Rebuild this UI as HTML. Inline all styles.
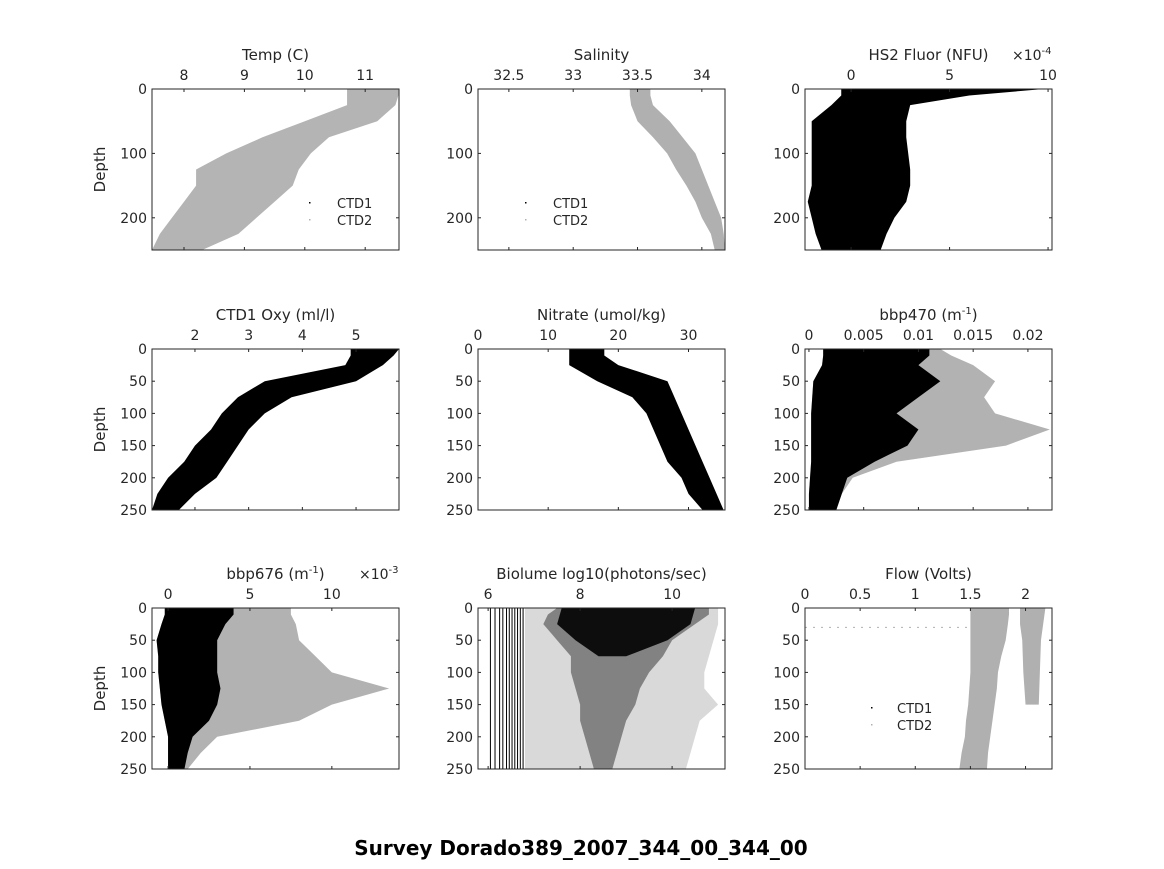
<!DOCTYPE html>
<html><head><meta charset="utf-8"><style>
body{margin:0;background:#fff}
svg text{font-family:"DejaVu Sans","Liberation Sans",sans-serif;fill:#262626}
</style></head><body>
<svg id="fig" width="1164" height="864" viewBox="0 0 1164 864" xmlns="http://www.w3.org/2000/svg">
<rect width="1164" height="864" fill="#fff"/>
<text x="581" y="855" text-anchor="middle" font-size="20" font-weight="bold" style="fill:#000">Survey Dorado389_2007_344_00_344_00</text>
</svg>
<script>
const depths=[0,10,25,50,75,100,125,150,175,200,225,250];
// Temp
const tempLo=[10.7,10.7,10.7,10.0,9.3,8.7,8.2,8.2,8.0,7.8,7.6,7.47];
const tempHi=[11.55,11.55,11.5,11.2,10.4,10.1,9.9,9.8,9.5,9.2,8.9,8.3];
// Salinity
const salLo=[33.44,33.44,33.45,33.5,33.62,33.73,33.8,33.88,33.95,34.0,34.07,34.1];
const salHi=[33.6,33.6,33.62,33.75,33.85,33.95,34.0,34.05,34.1,34.15,34.17,34.18];
// Fluor x1e-4
const fluLo=[-0.5,-0.5,-1,-2,-2,-2,-2,-2,-2.2,-2,-1.8,-1.5];
const fluHi=[9.8,6,3,2.8,2.8,2.9,3,3,2.8,2.2,1.8,1.5];
// Oxygen
const oxyLo=[4.9,4.9,4.8,3.3,2.8,2.5,2.3,2.0,1.8,1.5,1.3,1.2];
const oxyHi=[5.8,5.7,5.5,5.0,3.8,3.3,3.0,2.8,2.6,2.4,2.0,1.7];
// Nitrate
const nitLo=[13,13,13,17,22,24,25,26,27,29,30,32];
const nitHi=[18,18,20,27,28,29,30,31,32,33,34,35];
// bbp470
const b470Lo=[0.0013,0.0013,0.0012,0.0004,0.0003,0.0002,0.0002,0.0002,0.0002,0.0001,0,0];
const b470Hi=[0.011,0.011,0.01,0.012,0.010,0.008,0.010,0.009,0.006,0.0035,0.003,0.0025];
const b470Fr=[0.012,0.013,0.015,0.017,0.016,0.017,0.022,0.018,0.008,0.004,0.003,0.0025];
// bbp676 x1e-3
const b676Lo=[-0.2,-0.2,-0.4,-0.7,-0.6,-0.6,-0.5,-0.4,-0.2,0,0,0];
const b676Hi=[4,4,3.5,3,3,3,3.2,3,2.5,1.5,1.2,1];
const b676Fr=[7.5,7.5,7.8,8,9,10,13.5,10,8,3,2,1.2];
// Biolume
const bioCoreDepth=[0,25,50,75];
const bioCoreLo=[7.6,7.5,7.9,8.4];
const bioCoreHi=[10.5,10.4,9.9,9.0];
const bioLo=[7.5,7.3,7.2,7.5,7.8,7.8,7.9,8.0,8.0,8.1,8.2,8.3];
const bioHi=[10.8,10.8,10.5,10.0,9.8,9.5,9.3,9.2,9.0,8.9,8.8,8.7];
const bioFrLo=[6.8,6.8,6.8,6.8,6.8,6.8,6.8,6.8,6.8,6.8,6.8,6.8];
const bioFrHi=[11,11,11,10.9,10.8,10.7,10.7,11,10.6,10.5,10.4,10.3];
const bioLines=[6.05,6.15,6.25,6.32,6.4,6.46,6.52,6.58,6.64,6.7,6.76];
// Flow
const flowLo=[1.5,1.5,1.5,1.5,1.5,1.5,1.49,1.48,1.46,1.45,1.42,1.4];
const flowHi=[1.85,1.85,1.84,1.82,1.78,1.75,1.74,1.72,1.7,1.68,1.66,1.65];
const flow2Depth=[0,25,50,100,150];
const flow2Lo=[1.95,1.95,1.97,1.98,2.0];
const flow2Hi=[2.18,2.16,2.14,2.13,2.12];

const cols=[152,478,805], W=247, rows=[89,349,608], H=161;
const NS="http://www.w3.org/2000/svg";
const svg=document.getElementById('fig');
function el(tag,attrs,parent){const e=document.createElementNS(NS,tag);for(const k in attrs)e.setAttribute(k,attrs[k]);(parent||svg).appendChild(e);return e;}

const panels=[
 {n:'temp',c:0,r:0,title:'Temp (C)',x0:7.47,x1:11.56,ticks:[8,9,10,11],lab:['8','9','10','11'],yt:[0,100,200],ylab:true,
  bands:[{d:depths,lo:tempLo,hi:tempHi,f:'#b4b4b4',o:1}],legend:[309,337]},
 {n:'salinity',c:1,r:0,title:'Salinity',x0:32.26,x1:34.18,ticks:[32.5,33,33.5,34],lab:['32.5','33','33.5','34'],yt:[0,100,200],
  bands:[{d:depths,lo:salLo,hi:salHi,f:'#b0b0b0',o:1}],legend:[525,553]},
 {n:'fluor',c:2,r:0,title:'HS2 Fluor (NFU)',x0:-2.34,x1:10.2,ticks:[0,5,10],lab:['0','5','10'],yt:[0,100,200],exp:'-4',
  bands:[{d:depths,lo:fluLo,hi:fluHi,f:'#000',o:1}]},
 {n:'oxygen',c:0,r:1,title:'CTD1 Oxy (ml/l)',x0:1.2,x1:5.8,ticks:[2,3,4,5],lab:['2','3','4','5'],yt:[0,50,100,150,200,250],ylab:true,
  bands:[{d:depths,lo:oxyLo,hi:oxyHi,f:'#000',o:1}]},
 {n:'nitrate',c:1,r:1,title:'Nitrate (umol/kg)',x0:0,x1:35.2,ticks:[0,10,20,30],lab:['0','10','20','30'],yt:[0,50,100,150,200,250],
  bands:[{d:depths,lo:nitLo,hi:nitHi,f:'#000',o:1}]},
 {n:'bbp470',c:2,r:1,title:'bbp470 (m',sup:true,x0:-0.00036,x1:0.0222,ticks:[0,0.005,0.01,0.015,0.02],lab:['0','0.005','0.01','0.015','0.02'],yt:[0,50,100,150,200,250],
  bands:[{d:depths,lo:b470Lo,hi:b470Fr,f:'#000',o:0.3},{d:depths,lo:b470Lo,hi:b470Hi,f:'#000',o:1}]},
 {n:'bbp676',c:0,r:2,title:'bbp676 (m',sup:true,x0:-0.98,x1:14.1,ticks:[0,5,10],lab:['0','5','10'],yt:[0,50,100,150,200,250],ylab:true,exp:'-3',
  bands:[{d:depths,lo:b676Lo,hi:b676Fr,f:'#000',o:0.3},{d:depths,lo:b676Lo,hi:b676Hi,f:'#000',o:1}]},
 {n:'biolume',c:1,r:2,title:'Biolume log10(photons/sec)',x0:5.78,x1:11.15,ticks:[6,8,10],lab:['6','8','10'],yt:[0,50,100,150,200,250],
  bands:[{d:depths,lo:bioFrLo,hi:bioFrHi,f:'#000',o:0.15},{d:depths,lo:bioLo,hi:bioHi,f:'#000',o:0.4},{d:bioCoreDepth,lo:bioCoreLo,hi:bioCoreHi,f:'#000',o:0.9}],vlines:bioLines},
 {n:'flow',c:2,r:2,title:'Flow (Volts)',x0:0,x1:2.24,ticks:[0,0.5,1,1.5,2],lab:['0','0.5','1','1.5','2'],yt:[0,50,100,150,200,250],
  bands:[{d:depths,lo:flowLo,hi:flowHi,f:'#b0b0b0',o:1},{d:flow2Depth,lo:flow2Lo,hi:flow2Hi,f:'#b0b0b0',o:1}],hline:30,legend:[871,897]}
];

panels.forEach(p=>{
  const L=cols[p.c],T=rows[p.r];
  const sx=v=>L+(v-p.x0)/(p.x1-p.x0)*W;
  const sy=d=>T+d/250*H;
  const g=el('g',{});
  
  
  const clipId='c'+p.n;
  const cp=el('clipPath',{id:clipId},g);el('rect',{x:L,y:T,width:W,height:H},cp);
  const marks=el('g',{'clip-path':'url(#'+clipId+')'},g);
  p.bands.forEach((b,i)=>{
    let pts=b.d.map((d,k)=>sx(b.lo[k])+','+sy(d));
    for(let k=b.d.length-1;k>=0;k--)pts.push(sx(b.hi[k])+','+sy(b.d[k]));
    const poly=el('polygon',{points:pts.join(' '),fill:b.f,'fill-opacity':b.o},marks);
    
    
  });
  if(p.vlines)p.vlines.forEach(v=>{
    const ln=el('line',{x1:sx(v),x2:sx(v),y1:T,y2:T+H,stroke:'#000','stroke-width':1},marks);
    
    
  });
  if(p.hline!==undefined){
    const ln=el('line',{x1:L,x2:sx(1.5),y1:sy(p.hline),y2:sy(p.hline),stroke:'#b0b0b0','stroke-width':1,'stroke-dasharray':'2 6'},marks);
    
    
  }
  const box=el('rect',{x:L,y:T,width:W,height:H,fill:'none',stroke:'#262626','stroke-width':1},g);
  
  
  p.ticks.forEach((t,i)=>{
    const x=sx(t);
    el('line',{x1:x,x2:x,y1:T,y2:T+3,stroke:'#262626'},g);
    el('line',{x1:x,x2:x,y1:T+H,y2:T+H-3,stroke:'#262626'},g);
    const tx=el('text',{x:x,y:T-9,'text-anchor':'middle','font-size':14},g);
    tx.textContent=p.lab[i];
    
    
  });
  p.yt.forEach(d=>{
    const y=sy(d);
    el('line',{x1:L,x2:L+3,y1:y,y2:y,stroke:'#262626'},g);
    el('line',{x1:L+W,x2:L+W-3,y1:y,y2:y,stroke:'#262626'},g);
    const ty=el('text',{x:L-5,y:y+5,'text-anchor':'end','font-size':14},g);
    ty.textContent=String(d);
    
    
  });
  const tt=el('text',{x:L+W/2,y:T-29,'text-anchor':'middle','font-size':15},g);
  
  
  if(p.sup){tt.innerHTML=p.title+'<tspan dy="-6" font-size="10">-1</tspan><tspan dy="6">)</tspan>';}
  else tt.textContent=p.title;
  if(p.exp){
    const ex=el('text',{x:L+W-40,y:T-29,'font-size':14},g);
    ex.innerHTML='×10<tspan dy="-6" font-size="10">'+p.exp+'</tspan>';
    
    
  }
  if(p.ylab){
    const yl=el('text',{x:0,y:0,'text-anchor':'middle','font-size':15,transform:'translate('+(L-47)+','+(T+H/2)+') rotate(-90)'},g);
    yl.textContent='Depth';
    
    
  }
  if(p.legend){
    const ly=p.n==='flow'?T+100:T+114;
    ['CTD1','CTD2'].forEach((s,i)=>{
      const dot=el('rect',{x:p.legend[0],y:ly+i*17-1,width:1.5,height:1.5,fill:i?'#b0b0b0':'#000'},g);
      
      
      const lt=el('text',{x:p.legend[1],y:ly+i*17+5,'font-size':13},g);
      lt.textContent=s;
      
      
    });
  }
});
</script>
</body></html>
